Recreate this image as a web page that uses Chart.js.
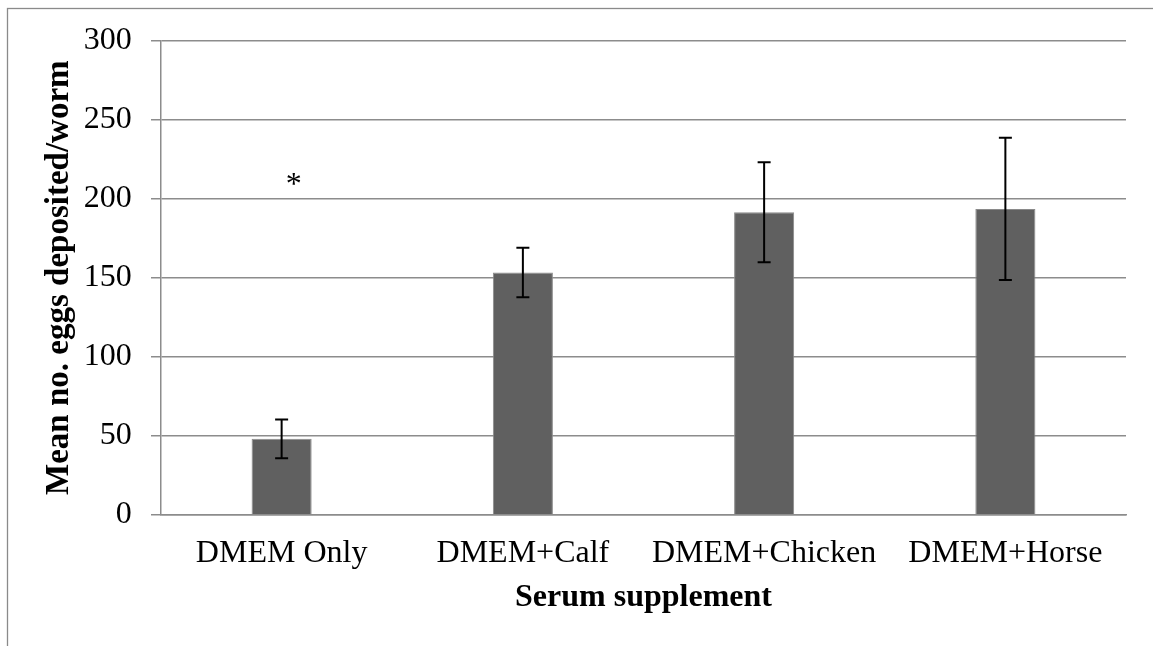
<!DOCTYPE html>
<html>
<head>
<meta charset="utf-8">
<script src="https://cdn.jsdelivr.net/npm/chart.js@4/dist/chart.umd.min.js"></script>
<style>
  html, body { margin: 0; padding: 0; background: #ffffff; }
  #wrap { width: 1153px; height: 646px; position: relative; }
</style>
</head>
<body>
<div id="wrap"><canvas id="c" width="1153" height="646"></canvas></div>
<script>
// ---- data ----
const categories = ['DMEM Only', 'DMEM+Calf', 'DMEM+Chicken', 'DMEM+Horse'];
const meanEggs = [48, 153.3, 191.4, 193.5];
const errorAmounts = [12.2, 15.7, 31.7, 45];
const yTicks = [0, 50, 100, 150, 200, 250, 300];
const asteriskCategory = [0.05];
const asteriskValue = [212];
const yTitle = 'Mean no. eggs deposited/worm';
const xTitle = 'Serum supplement';

const SERIF = '"Liberation Serif", "Times New Roman", serif';
const GRID = '#8c8c8c';

const borderPlugin = {
  id: 'outerBorder',
  beforeDraw(chart) {
    const ctx = chart.ctx;
    ctx.save();
    ctx.fillStyle = '#ffffff';
    ctx.fillRect(0, 0, chart.width, chart.height);
    ctx.strokeStyle = '#8a8a8a';
    ctx.lineWidth = 1.3;
    ctx.strokeRect(7.5, 8.5, 3000, 3000);
    ctx.restore();
  }
};

const errorBarPlugin = {
  id: 'errorBars',
  afterDatasetsDraw(chart) {
    const ctx = chart.ctx;
    const meta = chart.getDatasetMeta(0);
    const y = chart.scales.y;
    ctx.save();
    ctx.strokeStyle = '#000000';
    ctx.lineWidth = 2;
    meta.data.forEach((bar, i) => {
      const v = meanEggs[i], e = errorAmounts[i];
      const yTop = y.getPixelForValue(v + e);
      const yBot = y.getPixelForValue(v - e);
      const x = bar.x;
      const cap = 6.5;
      ctx.beginPath();
      ctx.moveTo(x, yTop); ctx.lineTo(x, yBot);
      ctx.moveTo(x - cap, yTop); ctx.lineTo(x + cap, yTop);
      ctx.moveTo(x - cap, yBot); ctx.lineTo(x + cap, yBot);
      ctx.stroke();
    });
    // significance asterisk
    const xs = chart.scales.x;
    ctx.fillStyle = '#000000';
    ctx.font = '32px ' + SERIF;
    ctx.textAlign = 'center';
    ctx.textBaseline = 'alphabetic';
    asteriskCategory.forEach((c, i) => {
      const px = xs.getPixelForValue(c);
      const py = y.getPixelForValue(asteriskValue[i]);
      ctx.fillText('*', px, py + 14.5);
    });
    ctx.restore();
  }
};

new Chart(document.getElementById('c'), {
  type: 'bar',
  data: {
    labels: categories,
    datasets: [{
      data: meanEggs,
      backgroundColor: '#606060',
      borderColor: '#8a8a8a',
      borderWidth: 1,
      categoryPercentage: 1.0,
      barPercentage: 0.249
    }]
  },
  options: {
    responsive: false,
    animation: false,
    devicePixelRatio: 1,
    layout: { padding: { top: 40.7, right: 27, bottom: 0, left: 0 } },
    plugins: { legend: { display: false }, tooltip: { enabled: false } },
    scales: {
      x: {
        type: 'category',
        grid: { display: false, drawTicks: false },
        border: { display: true, color: GRID, width: 1.5 },
        ticks: {
          color: '#000000',
          font: { family: SERIF, size: 32, lineHeight: 1.2 },
          padding: 19.6,
          maxRotation: 0,
          autoSkip: false
        },
        title: {
          display: true,
          text: xTitle,
          color: '#000000',
          font: { family: SERIF, size: 32, weight: 'bold', lineHeight: 1.2 },
          padding: { top: 0, bottom: 28.8 }
        },
        afterFit(scale) { scale.height = 131.3; }
      },
      y: {
        type: 'linear',
        min: 0,
        max: 300,
        afterBuildTicks(scale) { scale.ticks = yTicks.map(v => ({ value: v })); },
        grid: { color: GRID, lineWidth: 1.5, drawTicks: true, tickLength: 10, tickColor: GRID },
        border: { display: true, color: GRID, width: 1.5 },
        ticks: {
          color: '#000000',
          font: { family: SERIF, size: 32, lineHeight: 1.2 },
          padding: 19.3
        },
        title: {
          display: true,
          text: yTitle,
          color: '#000000',
          font: { family: SERIF, size: 33, weight: 'bold', lineHeight: 1.2 },
          padding: { top: 39.5, bottom: 0 }
        },
        afterFit(scale) { scale.width = 161; }
      }
    }
  },
  plugins: [borderPlugin, errorBarPlugin]
});
</script>
</body>
</html>
